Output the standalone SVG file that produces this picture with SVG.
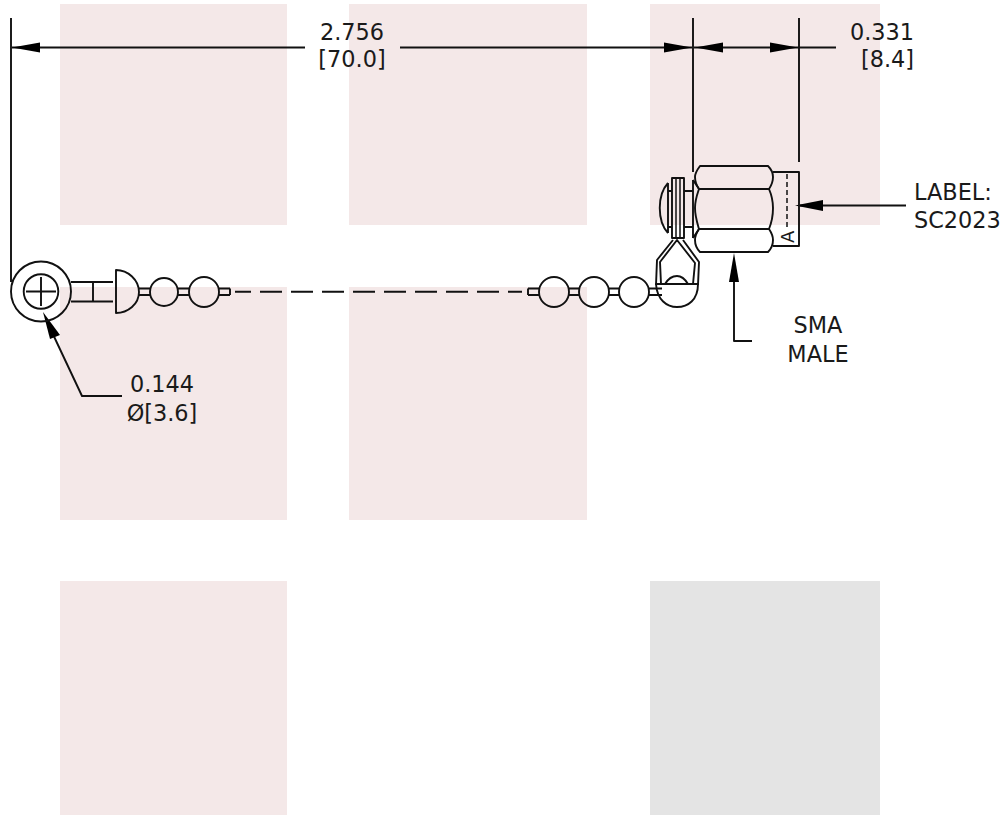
<svg xmlns="http://www.w3.org/2000/svg" width="1005" height="815" viewBox="0 0 1005 815">
<style>
.bg{fill:#f4e8e8}
.ln{fill:none;stroke:#111;stroke-width:1.9;stroke-linejoin:round}
.th{fill:none;stroke:#111;stroke-width:1.5}
.ah{fill:#000}
text{font-family:"DejaVu Sans","Liberation Sans",sans-serif;font-size:22.4px;fill:#1a1a1a}
</style>
<rect width="1005" height="815" fill="#fff"/>
<g id="background">
<rect class="bg" x="60" y="4" width="227" height="221"/>
<rect class="bg" x="349" y="4" width="238" height="221"/>
<rect class="bg" x="650" y="4" width="230" height="221"/>
<rect class="bg" x="60" y="287" width="227" height="233"/>
<rect class="bg" x="349" y="287" width="238" height="233"/>
<rect class="bg" x="60" y="581" width="227" height="234"/>
<rect x="650" y="581" width="230" height="234" fill="#e4e4e4"/>
</g>
<g id="connectors">
<path class="ln" d="M11 18V282M693 18V172M799 18V162"/>
<path class="ln" d="M12 47.5H305M400 47.5H692M694 47.5H836"/>
<polygon class="ah" points="12,47.5 40,42.5 40,52.5"/>
<polygon class="ah" points="692,47.5 664,42.5 664,52.5"/>
<polygon class="ah" points="695,47.5 723,42.5 723,52.5"/>
<polygon class="ah" points="798,47.5 770,42.5 770,52.5"/>
<path class="ln" d="M800 205.5H906"/>
<polygon class="ah" points="795,205.5 823,200 823,211"/>
<path class="ln" d="M734 280V341H752"/>
<polygon class="ah" points="734,253 729,282 739,282"/>
<path class="ln" d="M50 328L82 396H122"/>
<polygon class="ah" points="43,312 60,335 50,339"/>
<path class="ln" d="M235 291.7H522" stroke-dasharray="22 9" stroke-dashoffset="6"/>
</g>
<g id="eyelet">
<circle class="ln" cx="41" cy="291.5" r="30"/>
<circle class="ln" cx="41" cy="291.5" r="17.3"/>
<path class="ln" d="M26 291.5H56M41 277V306"/>
<path class="ln" d="M71 282H113M71 301.5H113M93 282V301.5"/>
<path class="ln" d="M116 270C128 270 139 280 139 292C139 304 128 313 116 313Z"/>
</g>
<g id="chain-left">
<path class="ln" d="M139 288.5H150M139 295H150M178 288.5H189M178 295H189M219 288.5H230M219 295H230M230 288.5V295"/>
<circle class="ln" cx="164" cy="292" r="14"/>
<circle class="ln" cx="204" cy="292" r="15"/>
</g>
<g id="chain-right">
<path class="ln" d="M528 288.5H539M528 295H539M528 288.5V295M569 288.5H580M569 295H580M609 288.5H620M609 295H620M649 288.5H662M649 295H662"/>
<circle class="ln" cx="554" cy="292" r="15"/>
<circle class="ln" cx="594" cy="292" r="15"/>
<circle class="ln" cx="634" cy="292" r="15"/>
</g>
<g id="cap">
<path class="ln" d="M656 284C657 300 667 307 677 307C688 307 698 300 698 284Z"/>
<path class="ln" d="M665 284C668 279 672 276 677 276C682 276 685 279 688 284"/>
<path class="ln" d="M656 285L657 260L673 240M661 284L660 262L677 240L695 263L693 284M683 240L699 262L698 285"/>
<rect class="ln" x="672" y="178" width="12" height="60" fill="#f4e8e8"/>
<path class="th" d="M676 178V238M680 178V238"/>
<path class="ln" d="M668 183C657 195 657 221 668 233M668 183V233M668 191H672M668 227H672"/>
<path class="ln" d="M684 191H693M684 227H693"/>
<path class="ln" d="M693 180V238"/>
</g>
<g id="sma-connector">
<path class="ln" d="M700 166H768C772 170 773 174 773 177C773 181 771 186 769 189C772 196 773 202 773 208C773 216 771 224 769 229C771 232 773 236 773 240C773 245 771 249 768 252H700C697 249 695 245 695 240C695 236 697 232 699 229C697 222 695 216 695 208C695 200 697 195 699 189C697 186 695 181 695 177C695 173 697 170 700 166Z"/>
<path class="ln" d="M699 189H769M699 229H769M693 180L699 189M693 238L699 229"/>
<path class="ln" d="M773 172H799V246H773"/>
<path class="th" d="M787 174V228" stroke-dasharray="5 3"/>
<text transform="translate(794,243) rotate(-90)" style="font-size:18px">A</text>
</g>
<g id="labels">
<text x="352" y="40" text-anchor="middle">2.756</text>
<text x="352" y="67" text-anchor="middle">[70.0]</text>
<text x="914" y="40" text-anchor="end">0.331</text>
<text x="914" y="67" text-anchor="end">[8.4]</text>
<text x="914" y="200">LABEL:</text>
<text x="914" y="228">SC2023</text>
<text x="818" y="333" text-anchor="middle">SMA</text>
<text x="818" y="362" text-anchor="middle">MALE</text>
<text x="162" y="392" text-anchor="middle">0.144</text>
<text x="162" y="421" text-anchor="middle">Ø[3.6]</text>
</g>
</svg>
